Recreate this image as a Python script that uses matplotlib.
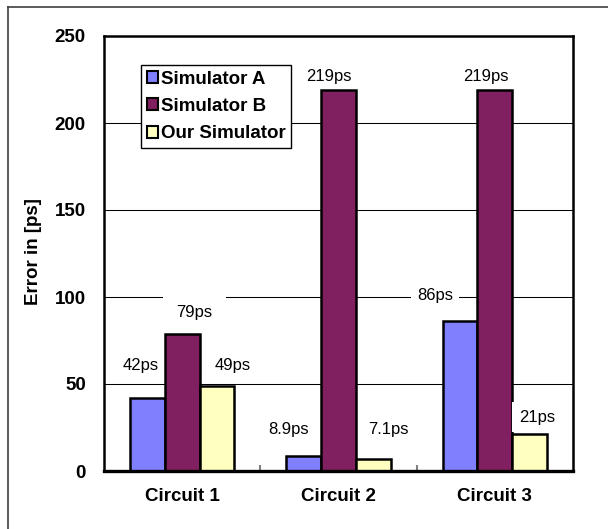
import matplotlib
matplotlib.use("Agg")
import matplotlib.pyplot as plt
from matplotlib.lines import Line2D
import numpy as np

# ---- data ----
circuits = ["Circuit 1", "Circuit 2", "Circuit 3"]
series_names = ["Simulator A", "Simulator B", "Our Simulator"]
sim_a = [42, 8.9, 86]
sim_b = [79, 219, 219]
ours = [49, 7.1, 21]
label_text = [
    ["42ps", "8.9ps", "86ps"],
    ["79ps", "219ps", "219ps"],
    ["49ps", "7.1ps", "21ps"],
]

# label placement offsets (category units, value units) per series / circuit
label_dx = [[-0.04, -0.10, -0.16], [0.08, -0.06, -0.06], [0.10, 0.10, 0.05]]
label_dy = [[18.5, 14.7, 15.0], [12.0, 8.0, 8.0], [11.5, 17.0, 10.0]]
label_pad = [[0.1, 0.3, 0.35], [0.8, 0.3, 0.3], [0.3, 0.3, 0.45]]

colors = ["#8080FF", "#802060", "#FFFFC0"]

plt.rcParams['font.family'] = ['Liberation Sans', 'DejaVu Sans']

fig = plt.figure(figsize=(6.08, 5.29), dpi=100)
ax = fig.add_axes([104 / 608, 1 - 471 / 529, 469 / 608, 435 / 529])

x = np.arange(len(circuits))
w = 1 / 4.5
values = [sim_a, sim_b, ours]
for i, (vals, name, col) in enumerate(zip(values, series_names, colors)):
    ax.bar(x + (i - 1) * w, vals, width=w, color=col, edgecolor="black",
           linewidth=1.8, label=name, zorder=2)

# value labels with white boxes
for i, vals in enumerate(values):
    for j, v in enumerate(vals):
        ax.text(x[j] + (i - 1) * w + label_dx[i][j], v + label_dy[i][j],
                label_text[i][j], ha="center", va="center", fontsize=12,
                zorder=4,
                bbox=dict(facecolor="white", edgecolor="none",
                          pad=label_pad[i][j] * 12))

ax.set_xlim(-0.5, 2.5)
ax.set_ylim(0, 250)
ax.set_yticks(np.arange(0, 251, 50))
ax.yaxis.grid(True, color="black", linewidth=0.75)
ax.set_axisbelow(True)

ax.set_xticks(x)
ax.set_xticklabels(circuits, fontsize=13.5, fontweight="bold")
ax.set_xticks([0.5, 1.5], minor=True)
ax.tick_params(axis="x", which="major", length=0, pad=12)
ax.tick_params(axis="x", which="minor", direction="in", length=4,
               width=1.5, color="#808080")
ax.tick_params(axis="y", length=0, pad=13, labelsize=13.5)
for lab in ax.get_yticklabels():
    lab.set_fontweight("bold")

for s in ax.spines.values():
    s.set_linewidth(1.8)
ax.spines["bottom"].set_linewidth(2.4)

fig.text(33 / 608, 1 - 252 / 529, "Error in [ps]", rotation=90,
         ha="center", va="center", fontsize=13.5, fontweight="bold")

leg = ax.legend(loc="upper left", bbox_to_anchor=((141 - 104) / 469, (471 - 65) / 435),
                prop=dict(size=13.5, weight="bold"), frameon=True, fancybox=False,
                edgecolor="black", framealpha=1, borderpad=0.3,
                handlelength=0.6, handleheight=0.6, handletextpad=0.15,
                labelspacing=0.55, borderaxespad=0)
leg.get_frame().set_linewidth(1.0)
leg.set_zorder(5)
for h in leg.legend_handles:
    h.set_linewidth(1.5)

# outer frame edges
fig.add_artist(Line2D([8 / 608, 8 / 608], [0, 1 - 7 / 529], color="#404040",
                      linewidth=1.2, transform=fig.transFigure))
fig.add_artist(Line2D([8 / 608, 1], [1 - 7 / 529, 1 - 7 / 529], color="#404040",
                      linewidth=1.2, transform=fig.transFigure))

fig.savefig("out.png", dpi=100)
